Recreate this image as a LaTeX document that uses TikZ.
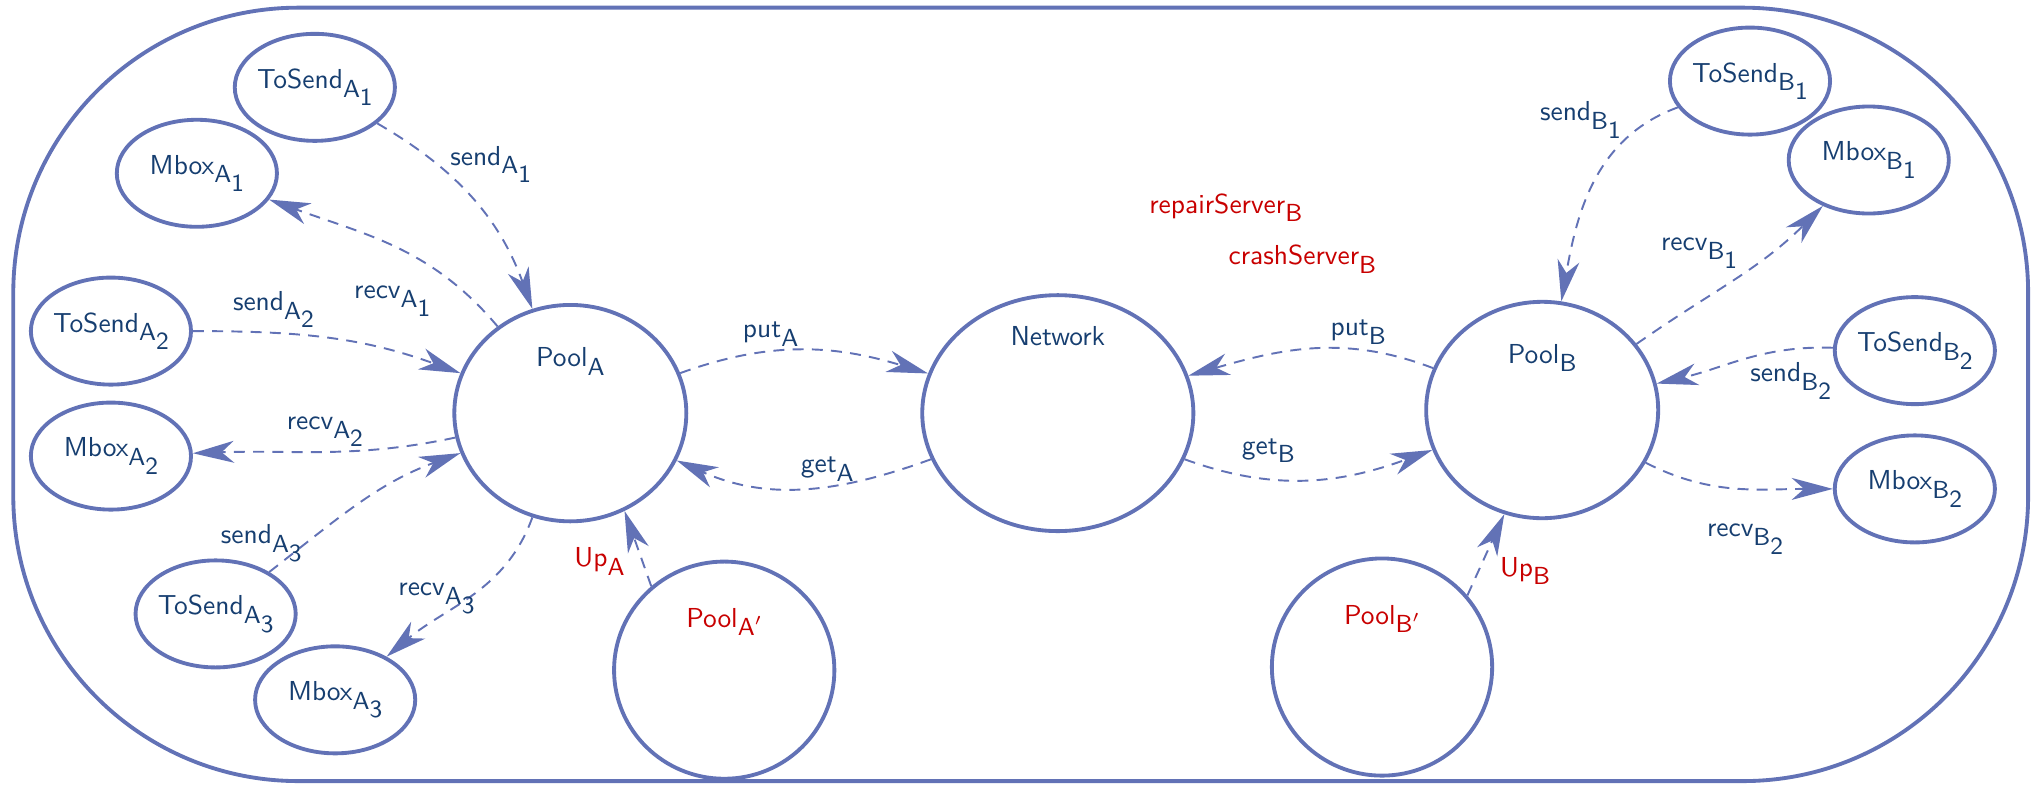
\documentclass[tikz,border=0pt]{standalone}
\usepackage{tikz}
\usetikzlibrary{arrows.meta, shapes.geometric}
\definecolor{lineblue}{RGB}{98,114,182}
\definecolor{textblue}{RGB}{22,62,112}
\definecolor{faultred}{RGB}{200,0,0}
% lowered subscript as in the original labels
\newcommand{\sbs}[1]{\raisebox{-3.2pt}{\small #1}}

\begin{document}
\begin{tikzpicture}[font=\sffamily,
  statebase/.style={ellipse, draw=lineblue, line width=1.4pt, text=textblue},
  state/.style={statebase, inner ysep=0pt, inner xsep=-1pt,
                minimum width=2.05cm, minimum height=1.37cm},
  bigbase/.style={statebase, inner sep=0pt, text height=0pt},
  pool/.style={bigbase, text depth=1.2cm, minimum width=2.97cm, minimum height=2.77cm},
  spare/.style={bigbase, text depth=1.1cm, text=faultred, minimum width=2.82cm, minimum height=2.78cm},
  net/.style={bigbase, text depth=1.74cm, minimum width=3.47cm, minimum height=3.02cm},
  arr/.style={-{Stealth[length=15pt, width=8pt, inset=4.5pt]}, line width=0.7pt,
              lineblue, dash pattern=on 4pt off 3pt},
  lbl/.style={text=textblue, inner sep=1.5pt},
  fault/.style={text=faultred, inner sep=1.5pt},
]
  \useasboundingbox (0,0) rectangle (26.125,10.048);
  % system boundary
  \draw[lineblue, line width=1.4pt, rounded corners=3.65cm] (0.17,0.05) rectangle (25.96,9.95);

  % site A
  \node[state] (tsA1) at (4.03,8.93) {ToSend\sbs{A\sbs{1}}};
  \node[state] (mbA1) at (2.52,7.83) {Mbox\sbs{A\sbs{1}}};
  \node[state] (tsA2) at (1.42,5.81) {ToSend\sbs{A\sbs{2}}};
  \node[state] (mbA2) at (1.42,4.21) {Mbox\sbs{A\sbs{2}}};
  \node[state] (tsA3) at (2.76,2.19) {ToSend\sbs{A\sbs{3}}};
  \node[state] (mbA3) at (4.29,1.09) {Mbox\sbs{A\sbs{3}}};
  \node[pool] (poolA) at (7.30,4.76) {Pool\sbs{A}};
  \node[spare] (poolAp) at (9.27,1.47) {Pool\sbs{A$'$}};

  % network
  \node[net] (network) at (13.54,4.76) {Network};
  \node[fault, anchor=base] (repairB) at (15.69,7.32) {repairServer\sbs{B}};
  \node[fault, anchor=base] (crashB) at (16.67,6.66) {crashServer\sbs{B}};

  % site B
  \node[pool] (poolB) at (19.74,4.80) {Pool\sbs{B}};
  \node[spare] (poolBp) at (17.69,1.51) {Pool\sbs{B$'$}};
  \node[state] (tsB1) at (22.40,9.01) {ToSend\sbs{B\sbs{1}}};
  \node[state] (mbB1) at (23.92,8.00) {Mbox\sbs{B\sbs{1}}};
  \node[state] (tsB2) at (24.51,5.56) {ToSend\sbs{B\sbs{2}}};
  \node[state] (mbB2) at (24.51,3.79) {Mbox\sbs{B\sbs{2}}};

  % transitions of site A
  \draw[arr] (tsA1) to[out=-30, in=110] node[lbl, pos=0.28, anchor=west, xshift=3pt] {send\sbs{A\sbs{1}}} (poolA);
  \draw[arr] (poolA) to[out=130, in=-20] node[lbl, pos=0.12, anchor=east, xshift=-14pt] {recv\sbs{A\sbs{1}}} (mbA1);
  \draw[arr] (tsA2) to[out=0, in=160] node[lbl, pos=0.28, anchor=south] {send\sbs{A\sbs{2}}} (poolA);
  \draw[arr] (poolA) to[out=192, in=2] node[lbl, pos=0.5, anchor=south] {recv\sbs{A\sbs{2}}} (mbA2);
  \draw[arr] (tsA3) to[out=38, in=200] node[lbl, pos=0.12, anchor=south east, xshift=5pt, yshift=-5pt] {send\sbs{A\sbs{3}}} (poolA);
  \draw[arr] (poolA) to[out=250, in=40] node[lbl, pos=0.45, anchor=east, yshift=-3pt] {recv\sbs{A\sbs{3}}} (mbA3);
  \draw[arr] (poolAp.131) -- node[fault, pos=0.4, left, xshift=-4pt, yshift=-2pt] {Up\sbs{A}} (poolA.299);

  % transitions through the network
  \draw[arr] (poolA) to[out=20, in=163] node[lbl, pos=0.36, anchor=south] {put\sbs{A}} (network);
  \draw[arr] (network) to[out=200, in=-24] node[lbl, pos=0.4, anchor=south] {get\sbs{A}} (poolA);
  \draw[arr] (poolB) to[out=159, in=16] node[lbl, pos=0.3, anchor=south] {put\sbs{B}} (network);
  \draw[arr] (network) to[out=-20, in=200] node[lbl, pos=0.33, anchor=south, yshift=4pt] {get\sbs{B}} (poolB);

  % transitions of site B
  \draw[arr] (tsB1) to[out=200, in=80] node[lbl, pos=0.12, anchor=east, xshift=-9pt] {send\sbs{B\sbs{1}}} (poolB);
  \draw[arr] (poolB) to[out=35, in=225] node[lbl, pos=0.55, anchor=south east] {recv\sbs{B\sbs{1}}} (mbB1);
  \draw[arr] (tsB2) to[out=178, in=13] node[lbl, pos=0.22, anchor=north, yshift=-3pt] {send\sbs{B\sbs{2}}} (poolB);
  \draw[arr] (poolB) to[out=-27, in=180] node[lbl, pos=0.55, anchor=north, yshift=-11pt] {recv\sbs{B\sbs{2}}} (mbB2);
  \draw[arr] (poolBp.40) -- node[fault, pos=0.3, anchor=west, xshift=6pt] {Up\sbs{B}} (poolB.250);
\end{tikzpicture}
\end{document}
